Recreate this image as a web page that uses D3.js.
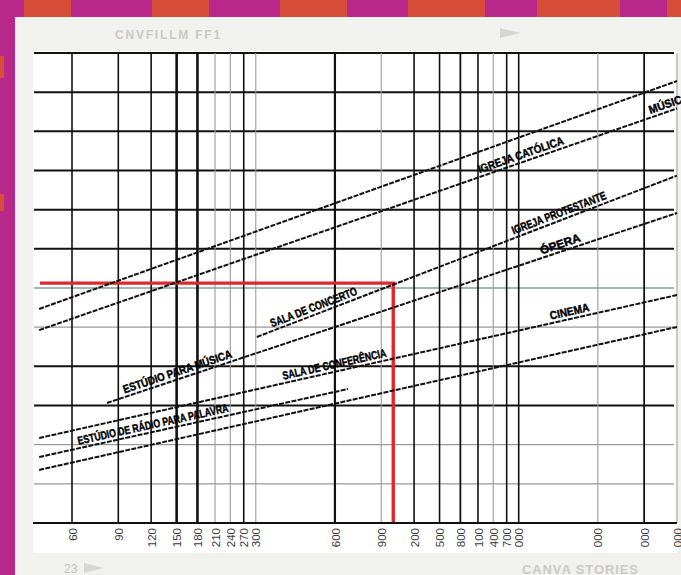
<!DOCTYPE html>
<html><head><meta charset="utf-8">
<script src="https://cdn.jsdelivr.net/npm/d3@7"></script>
<style>html,body{margin:0;padding:0;background:#b7288a;overflow:hidden}</style>
</head><body>
<svg id="c" width="681" height="575"></svg>
<script>
// ---------- data ----------
const tickValues = [60,90,120,150,180,210,240,270,300,600,900,1200,1500,1800,2100,2400,2700,3000,6000,9000,12000];
const tickLabels = ["60","90","120","150","180","210","240","270","300","600","900","200","500","800","100","400","700","000","000","000","000"];
const gridTimes = [0.2,0.4,0.6,0.8,1.0,1.2,1.4,1.6,1.8,2.0,2.2,2.4];

const curveIds        = ["catolica","musica","concerto","estudioMusica","cinema","radio","baixa"];
const curveStartVol   = [45, 45, 303, 81.5, 45, 45, 45];
const curveStartTime  = [1.093, 0.985, 0.950, 0.613, 0.434, 0.337, 0.271];
const curveEndVol     = [12000, 12000, 12000, 12000, 12000, 672, 12000];
const curveEndTime    = [2.257, 2.117, 1.774, 1.583, 1.164, 0.684, 1.001];

const labelTexts  = ["IGREJA CATÓLICA","MÚSICA","IGREJA PROTESTANTE","ÓPERA","SALA DE CONCERTO","CINEMA","SALA DE CONFERÊNCIA","ESTÚDIO PARA MÚSICA","ESTÚDIO DE RÁDIO PARA PALAVRA"];
const labelCurve  = ["musica","musica","concerto","estudioMusica","concerto","cinema","cinema","estudioMusica","radio"];
const labelVolume = [2150, 9600, 2900, 3700, 350, 4000, 385, 96, 64];

const markVolume = 1000;
const markTime = 1.225;

// ---------- styles / layout ----------
const labelLen = {"IGREJA CATÓLICA":90,"MÚSICA":42,"IGREJA PROTESTANTE":100,"ÓPERA":42,"SALA DE CONCERTO":92,"CINEMA":40,"SALA DE CONFERÊNCIA":106,"ESTÚDIO PARA MÚSICA":114,"ESTÚDIO DE RÁDIO PARA PALAVRA":154};
const strongV = {60:1.6,90:1.6,120:1.6,150:2.6,180:2.6,270:1.6,600:2.2,1200:1.6,1500:1.6,1800:1.8,2100:1.6,2700:1.6,3000:1.6,9000:1.8};
const stripeEdges = [0,24,71,152,209,280,347,408,485,537,620,667,681];

const svg = d3.select("#c");
const W = 681, H = 575;
const MAG = "#b7288a", ORG = "#d84d3a";

// background
svg.append("rect").attr("width",W).attr("height",H).attr("fill",MAG);
for (let i=0;i<stripeEdges.length-1;i++){
  svg.append("rect").attr("x",stripeEdges[i]).attr("y",0)
    .attr("width",stripeEdges[i+1]-stripeEdges[i]+0.5).attr("height",17)
    .attr("fill", i%2===0 ? MAG : ORG);
}
svg.append("rect").attr("x",0).attr("y",56).attr("width",4).attr("height",22).attr("fill",ORG);
svg.append("rect").attr("x",0).attr("y",194).attr("width",4).attr("height",17).attr("fill",ORG);
svg.append("rect").attr("x",15).attr("y",17).attr("width",W-15).attr("height",H-17).attr("fill","#f1f1ed");
svg.append("rect").attr("x",33).attr("y",51).attr("width",645).attr("height",502).attr("fill","#ffffff");

// panel texts
svg.append("text").attr("x",115).attr("y",39).text("CNVFILLM FF1")
  .attr("font-family","Liberation Sans, Arial, sans-serif").attr("font-weight","bold")
  .attr("font-size",12).attr("letter-spacing",1.8).attr("fill","#cacac7");
svg.append("path").attr("d","M500,28 L521,33 L500,38 Z").attr("fill","#d6d6d3");
svg.append("text").attr("x",64).attr("y",573).text("23")
  .attr("font-family","Liberation Sans, Arial, sans-serif").attr("font-size",12).attr("fill","#c2c2bf");
svg.append("path").attr("d","M84,563 L104,568 L84,573 Z").attr("fill","#d6d6d3");
svg.append("text").attr("x",522).attr("y",574).text("CANVA STORIES")
  .attr("font-family","Liberation Sans, Arial, sans-serif").attr("font-weight","bold")
  .attr("font-size",13).attr("letter-spacing",0.9).attr("fill","#cacac7");

// scales
const x = d3.scaleLog().domain([60,12000]).range([72,677]);
const y = d3.scaleLinear().domain([0,2.4]).range([523,53]);
const xL = 34, xR = 674;

const g = svg.append("g");

// horizontal grid
gridTimes.forEach((t,i)=>{
  const u = i+1;
  let col="#111", w=2;
  if (u===1||u===2||u===5){col="#9a9a9a"; w=1.1;}
  if (u===6){col="#86a08c"; w=1.3;}
  if (u===12){w=2.2;}
  g.append("line").attr("x1",xL).attr("x2",xR).attr("y1",y(t)).attr("y2",y(t))
    .attr("stroke",col).attr("stroke-width",w);
});

// vertical grid
tickValues.forEach(v=>{
  const s = strongV[v];
  g.append("line").attr("x1",x(v)).attr("x2",x(v)).attr("y1",y(2.4)).attr("y2",y(0))
    .attr("stroke", s ? "#111" : "#9a9a9a").attr("stroke-width", s || 1.1);
});

// red marker
g.append("line").attr("x1",40).attr("x2",x(markVolume)+1.7).attr("y1",y(markTime)).attr("y2",y(markTime))
  .attr("stroke","#e1262f").attr("stroke-width",3.4);
g.append("line").attr("x1",x(markVolume)).attr("x2",x(markVolume)).attr("y1",y(markTime)).attr("y2",y(0))
  .attr("stroke","#e1262f").attr("stroke-width",3.4);

// curves
const lineGen = d3.line().x(d=>x(d[0])).y(d=>y(d[1]));
const curves = {};
curveIds.forEach((id,i)=>{
  const pts = [[curveStartVol[i],curveStartTime[i]],[curveEndVol[i],curveEndTime[i]]];
  curves[id]=pts;
  g.append("path").attr("d",lineGen(pts)).attr("fill","none")
    .attr("stroke","#111").attr("stroke-width",2).attr("stroke-dasharray","5,1.3");
});

// bottom axis
const axis = d3.axisBottom(x).tickValues(tickValues).tickFormat((d,i)=>tickLabels[i]).tickSize(0);
const ax = svg.append("g").attr("transform",`translate(0,${y(0)})`).call(axis);
ax.select(".domain").remove();
ax.selectAll("text").attr("transform","rotate(-90)").attr("x",-5).attr("y",0).attr("dy","0.36em")
  .style("text-anchor","end").attr("font-family","Liberation Sans, Arial, sans-serif")
  .attr("font-size",11.5).attr("fill","#3a3a3a");
svg.append("line").attr("x1",33).attr("x2",677).attr("y1",y(0)).attr("y2",y(0))
  .attr("stroke","#111").attr("stroke-width",2.2);

// labels
labelTexts.forEach((txt,i)=>{
  const pts = curves[labelCurve[i]];
  const p0 = [x(pts[0][0]), y(pts[0][1])], p1 = [x(pts[1][0]), y(pts[1][1])];
  const px = x(labelVolume[i]);
  const py = p0[1] + (px-p0[0])*(p1[1]-p0[1])/(p1[0]-p0[0]);
  const ang = Math.atan2(p1[1]-p0[1], p1[0]-p0[0])*180/Math.PI;
  svg.append("text").attr("transform",`translate(${px},${py}) rotate(${ang})`)
    .attr("y",-3.5).text(txt)
    .attr("font-family","Liberation Sans Narrow, Arial Narrow, Liberation Sans, sans-serif")
    .attr("font-weight","bold").attr("font-size",11.5).attr("fill","#000")
    .attr("stroke","#000").attr("stroke-width",0.45)
    .attr("textLength",labelLen[txt]).attr("lengthAdjust","spacingAndGlyphs");
});
</script>
</body></html>
